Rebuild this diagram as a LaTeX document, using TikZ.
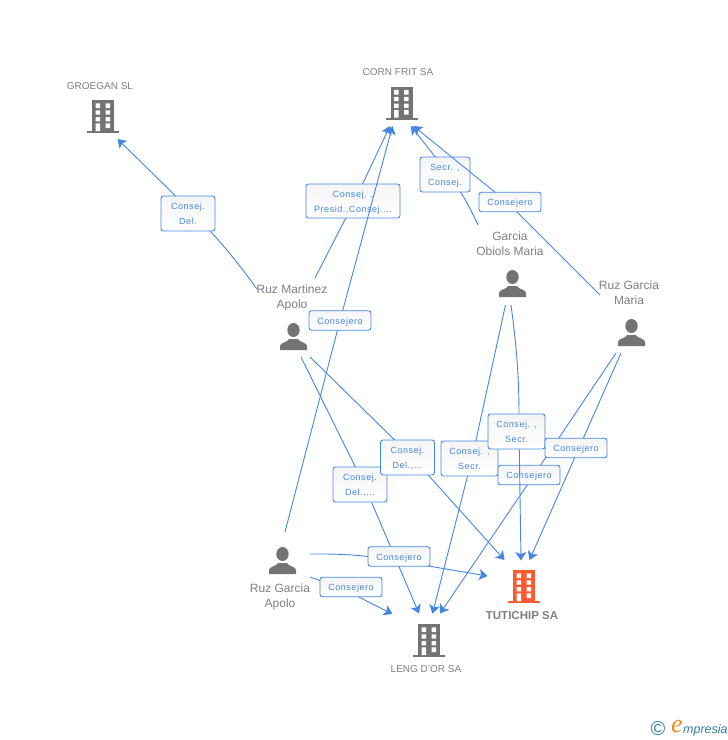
\documentclass[tikz,border=0pt]{standalone}
\usepackage{fontspec}
\setmainfont{Liberation Sans}
\newfontfamily\labelface[LetterSpace=6]{Liberation Sans}
\newfontfamily\logoface{Liberation Serif}
\usetikzlibrary{arrows.meta}
\definecolor{linkblue}{HTML}{4586E4}
\definecolor{iconGrey}{HTML}{737373}
\definecolor{iconRed}{HTML}{FF5A2D}
\definecolor{nameGrey}{HTML}{7F7F7F}
\definecolor{logoTeal}{HTML}{2F7F9F}
\definecolor{logoOrange}{HTML}{F08A1D}
\newcommand\rolea[1]{\rule[-2pt]{0pt}{11.5pt}#1}
\newcommand\roleb[2]{\rule{0pt}{9.5pt}#1\\\rule[-2pt]{0pt}{2pt}#2}
\tikzset{
  x=1pt,y=-1pt,
  link/.style={draw=linkblue,line width=0.9pt},
  linkend/.style={link,-{Stealth[length=8.5pt,width=11pt,inset=2.2pt,fill=linkblue]}},
  role/.style={draw=linkblue,line width=0.9pt,rounded corners=2.5pt,top color=black!4,bottom color=white,
    text=linkblue,inner sep=0pt,align=center,font=\labelface\fontsize{9}{15}\selectfont},
  roletwo/.style={role,minimum width=54pt,minimum height=35pt},
  roleone/.style={role,minimum width=62pt,minimum height=19.5pt},
  personname/.style={text=nameGrey,align=center,inner sep=0pt,font=\fontsize{12}{15}\selectfont},
  firm/.style={text=nameGrey,align=center,inner sep=0pt,font=\fontsize{10}{13}\selectfont},
  iconspot/.style={inner sep=0pt,minimum size=1pt},
  pics/building/.style={code={
    \fill[#1] (-11,-33) rectangle (11,-2);
    \fill[#1] (-16,-2) rectangle (16,0);
    \fill[white] (-7.5,-29.7) rectangle (-2.8,-25) (2.5,-29.7) rectangle (7.2,-25)
      (-7.5,-22.7) rectangle (-2.8,-18.3) (2.5,-22.7) rectangle (7.2,-18.3)
      (-7.5,-16) rectangle (-2.8,-11.7) (2.5,-16) rectangle (7.2,-11.7)
      (-7.5,-9.7) rectangle (-2.8,-2) (2.5,-9.7) rectangle (7.2,-5);
  }},
  pics/person/.style={code={
    \fill[iconGrey] (0,-20) ellipse [x radius=6.2,y radius=7];
    \fill[iconGrey] (-13.5,0) -- (-13.5,-4) .. controls (-13.5,-7.5) and (-6,-7.5) .. (-4.5,-11)
      -- (4.5,-11) .. controls (6,-7.5) and (13.5,-7.5) .. (13.5,-4) -- (13.5,0) -- cycle;
  }},
}
\begin{document}
\begin{tikzpicture}
\useasboundingbox (0,0) rectangle (728,740);

% entity icons
\node[iconspot] (groegan) at (103,133) {};
\node[iconspot] (corn) at (401.5,119.5) {};
\node[iconspot] (leng) at (429,657) {};
\node[iconspot] (tuti) at (524,603) {};
\node[iconspot] (martinez) at (293.5,350) {};
\node[iconspot] (obiols) at (512.5,297) {};
\node[iconspot] (maria) at (631.5,346) {};
\node[iconspot] (apolo) at (282.5,574) {};
\pic at (groegan) {building=iconGrey};
\pic at (corn) {building=iconGrey};
\pic at (leng) {building=iconGrey};
\pic at (tuti) {building=iconRed};
\pic at (martinez) {person};
\pic at (obiols) {person};
\pic at (maria) {person};
\pic at (apolo) {person};

% entity names
\node[firm] (ngroegan) at (100,86) {GROEGAN SL};
\node[firm] (ncorn) at (398,72) {CORN FRIT SA};
\node[firm] (nleng) at (426,669) {LENG D'OR SA};
\node[firm,font=\bfseries\fontsize{11.5}{14}\selectfont] (ntuti) at (522,615.5) {TUTICHIP SA};
\node[personname] (nmartinez) at (292,297.5) {Ruz Martinez\\Apolo};
\node[personname] (nobiols) at (510,244) {Garcia\\Obiols Maria};
\node[personname] (nmaria) at (629,293) {Ruz Garcia\\Maria};
\node[personname] (napolo) at (280,596.5) {Ruz Garcia\\Apolo};

% connector ends
\coordinate (s1) at (257,289);   \coordinate (t1) at (117.5,139);
\coordinate (s2) at (315,278);   \coordinate (t2) at (390,126);
\coordinate (s3) at (285,532);   \coordinate (t3) at (392.5,126);
\coordinate (s4) at (478,225);   \coordinate (t4) at (411,126);
\coordinate (s5) at (600,295);   \coordinate (t5) at (413.5,126);
\coordinate (s6) at (310,357);   \coordinate (t6) at (504.5,560);
\coordinate (s7) at (301,357);   \coordinate (t7) at (419,613.5);
\coordinate (s8) at (310,554);   \coordinate (t8) at (487.5,576);
\coordinate (s9) at (310,577);   \coordinate (t9) at (392.5,614);
\coordinate (s10) at (505.5,305); \coordinate (t10) at (432.5,613.5);
\coordinate (s11) at (511,305);  \coordinate (t11) at (521,560.5);
\coordinate (s12) at (616,353);  \coordinate (t12) at (440,613.5);
\coordinate (s13) at (621,353);  \coordinate (t13) at (529.5,560);

% role positions
\coordinate (p1) at (188,213.5);
\coordinate (p2) at (353,201);
\coordinate (p3) at (340,320.5);
\coordinate (p4) at (445,174.5);
\coordinate (p5) at (510,202);
\coordinate (p6) at (407.5,457.5);
\coordinate (p7) at (360,484.5);
\coordinate (p8) at (399,556.5);
\coordinate (p9) at (351,587);
\coordinate (p10) at (469.5,458.5);
\coordinate (p11) at (516.5,431.5);
\coordinate (p12) at (529,475);
\coordinate (p13) at (576,448);

% points where each connector passes behind its role box
\coordinate (q1) at (193.5,213.5);
\coordinate (q2) at (354.5,201);
\coordinate (q3) at (340,320.5);
\coordinate (q4) at (449,174.5);
\coordinate (q5) at (507,202);
\coordinate (q6) at (412.5,457.5);
\coordinate (q7) at (364,484.5);
\coordinate (q8) at (399,561);
\coordinate (q9) at (341,588);
\coordinate (q10) at (472,458.5);
\coordinate (q11) at (519,431.5);
\coordinate (q12) at (534,475);
\coordinate (q13) at (579,448);

\draw[link] (s1) to[bend right=4] (q1);
\draw[linkend] (q1) -- (t1);
\node[roletwo] (r1) at (p1) {\roleb{Consej.}{Del.}};

\draw[link] (s2) -- (q2);
\draw[linkend] (q2) -- (t2);
\node[role,minimum width=94pt,minimum height=34pt] (r2) at (p2) {\roleb{Consej. ,}{Presid.,Consej....}};

\draw[link] (s3) -- (q3);
\draw[linkend] (q3) -- (t3);
\node[roleone] (r3) at (p3) {\rolea{Consejero}};

\draw[link] (s4) to[bend right=5] (q4);
\draw[linkend] (q4) -- (t4);
\node[role,minimum width=50pt,minimum height=35pt] (r4) at (p4) {\roleb{Secr. ,}{Consej.}};

\draw[link] (s5) -- (q5);
\draw[linkend] (q5) -- (t5);
\node[roleone] (r5) at (p5) {\rolea{Consejero}};

\draw[link] (s7) -- (q7);
\draw[linkend] (q7) -- (t7);
\node[roletwo] (r7) at (p7) {\roleb{Consej.}{Del.,...}};

\draw[link] (s6) -- (q6);
\draw[linkend] (q6) -- (t6);
\node[roletwo] (r6) at (p6) {\roleb{Consej.}{Del.,...}};

\draw[link] (s10) -- (q10);
\draw[linkend] (q10) -- (t10);
\node[role,minimum width=57pt,minimum height=35pt] (r10) at (p10) {\roleb{Consej. ,}{Secr.}};

\draw[link] (s12) -- (q12);
\draw[linkend] (q12) -- (t12);
\node[roleone] (r12) at (p12) {\rolea{Consejero}};

\draw[link] (s11) to[bend left=4] (q11);
\draw[linkend] (q11) -- (t11);
\node[role,minimum width=57pt,minimum height=35pt] (r11) at (p11) {\roleb{Consej. ,}{Secr.}};

\draw[link] (s13) -- (q13);
\draw[linkend] (q13) -- (t13);
\node[roleone] (r13) at (p13) {\rolea{Consejero}};

\draw[link] (s8) to[bend left=5] (q8);
\draw[linkend] (q8) -- (t8);
\node[roleone] (r8) at (p8) {\rolea{Consejero}};

\draw[link] (s9) -- (q9);
\draw[linkend] (q9) -- (t9);
\node[roleone] (r9) at (p9) {\rolea{Consejero}};

% logo
\node[text=logoTeal,inner sep=0pt,font=\fontsize{20}{20}\selectfont] (logoc) at (658,729) {©};
\node[text=logoOrange,inner sep=0pt,font=\logoface\itshape\fontsize{26}{26}\selectfont] (logoe) at (677,726) {e};
\node[text=logoTeal,inner sep=0pt,anchor=base west,font=\itshape\fontsize{12.5}{14}\selectfont] (logot) at (683,733) {mpresia};
\end{tikzpicture}
\end{document}
